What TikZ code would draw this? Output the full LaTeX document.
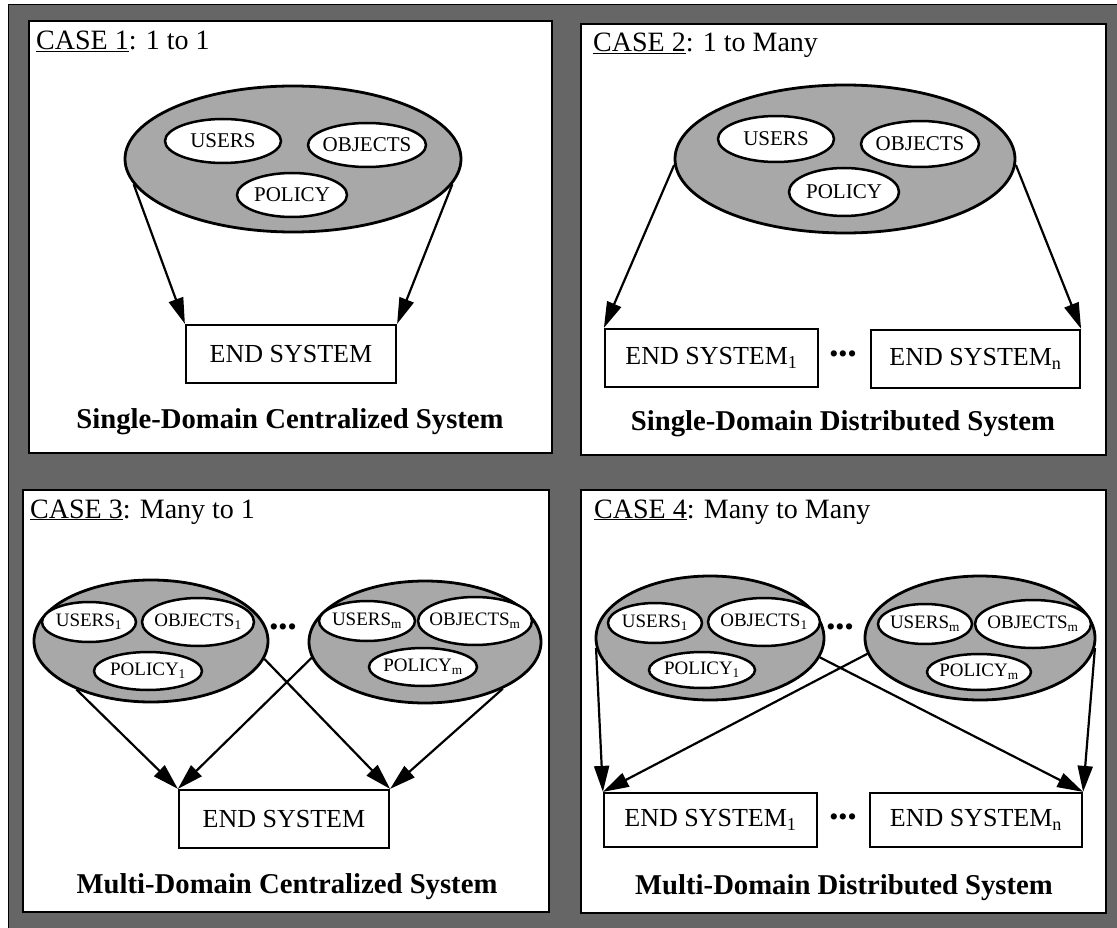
\documentclass[tikz,border=0pt]{standalone}
\usepackage{fontspec}
\setmainfont{Liberation Serif}
\usetikzlibrary{shapes.geometric,arrows.meta}

\definecolor{bandgray}{gray}{0.40}
\definecolor{domgray}{gray}{0.66}

\tikzset{
  casepanel/.style={fill=white, draw=black, line width=1.8pt},
  domainoval/.style={ellipse, draw=black, line width=2.8pt, fill=domgray, inner sep=0pt},
  partoval/.style={ellipse, draw=black, line width=2.5pt, fill=white, inner ysep=0pt,
    inner xsep=-8pt, font=\fontsize{21}{23}\selectfont},
  smallpartoval/.style={partoval, inner xsep=-9pt, font=\fontsize{19}{21}\selectfont},
  esbox/.style={draw=black, line width=2.2pt, fill=white, minimum height=58pt,
    inner sep=0pt, font=\fontsize{26}{28}\selectfont},
  linkarrow/.style={line width=2.2pt, -{Triangle[length=26pt,width=15pt]}},
  casehead/.style={anchor=base west, inner sep=0pt, font=\fontsize{28}{30}\selectfont},
  casecaption/.style={anchor=base, inner sep=0pt, font=\fontsize{28.7}{31}\selectfont\bfseries},
  dotrow/.style={inner sep=0pt, font=\fontsize{26}{26}\selectfont},
}

\begin{document}
\begin{tikzpicture}[x=1pt,y=-1pt]
\useasboundingbox (0,0) rectangle (1117,928);
\fill[white] (0,0) rectangle (1117,928);
% halftone frame behind the four panels
\filldraw[fill=bandgray, draw=black, line width=1pt] (8,5) rectangle (1117,928);

% ---------------- Case 1 ----------------
\draw[casepanel] (29,21) rectangle (552,453);
\node[casehead] (h1) at (36,50) {\underline{CASE 1}: 1 to 1};
\node[domainoval, minimum width=336pt, minimum height=146pt] (d1) at (293,159) {};
\node[partoval, minimum width=116pt, minimum height=44pt] (u1) at (223,141) {USERS};
\node[partoval, minimum width=118pt, minimum height=44pt] (o1) at (367,145) {OBJECTS};
\node[partoval, minimum width=110pt, minimum height=44pt] (p1) at (292,195) {POLICY};
\node[esbox, minimum width=210pt] (es1) at (291,354) {END SYSTEM};
\draw[linkarrow] (d1.-171) -- (es1.north west);
\draw[linkarrow] (d1.-9) -- (es1.north east);
\node[casecaption] (c1) at (290,428) {Single-Domain Centralized System};

% ---------------- Case 2 ----------------
\draw[casepanel] (581,24) rectangle (1106,455);
\node[casehead] (h2) at (593,52) {\underline{CASE 2}: 1 to Many};
\node[domainoval, minimum width=340pt, minimum height=148pt] (d2) at (845,159) {};
\node[partoval, minimum width=116pt, minimum height=46pt] (u2) at (776,139) {USERS};
\node[partoval, minimum width=118pt, minimum height=46pt] (o2) at (920,144) {OBJECTS};
\node[partoval, minimum width=110pt, minimum height=48pt] (p2) at (844,192) {POLICY};
\node[esbox, minimum width=213pt] (es2a) at (711.5,358) {END SYSTEM\textsubscript{1}};
\node[esbox, minimum width=209pt] (es2b) at (975.5,359) {END SYSTEM\textsubscript{n}};
\node[dotrow] (dt2) at (843,357) {•••};
\draw[linkarrow] (d2.-178) -- (es2a.north west);
\draw[linkarrow] (d2.-2) -- (es2b.north east);
\node[casecaption] (c2) at (843,430) {Single-Domain Distributed System};

% ---------------- Case 3 ----------------
\draw[casepanel] (23,490) rectangle (549,912);
\node[casehead] (h3) at (30,518) {\underline{CASE 3}: Many to 1};
\node[domainoval, minimum width=234pt, minimum height=122pt] (d3a) at (151,641) {};
\node[domainoval, minimum width=232pt, minimum height=122pt] (d3b) at (425,642) {};
\node[smallpartoval, minimum width=94pt, minimum height=40pt] (u3a) at (89,622) {USERS\textsubscript{1}};
\node[smallpartoval, minimum width=112pt, minimum height=48pt] (o3a) at (198,622) {OBJECTS\textsubscript{1}};
\node[smallpartoval, minimum width=108pt, minimum height=38pt] (p3a) at (148,671) {POLICY\textsubscript{1}};
\node[smallpartoval, minimum width=96pt, minimum height=40pt] (u3b) at (367,621) {USERS\textsubscript{m}};
\node[smallpartoval, minimum width=114pt, minimum height=48pt] (o3b) at (475,621) {OBJECTS\textsubscript{m}};
\node[smallpartoval, minimum width=108pt, minimum height=38pt] (p3b) at (423,667) {POLICY\textsubscript{m}};
\node[dotrow] (dt3) at (283,630) {•••};
\node[esbox, minimum width=210pt] (es3) at (284,819) {END SYSTEM};
\draw[linkarrow] (d3a.-147) -- (es3.north west);
\draw[linkarrow] (d3a.-9) -- (es3.north east);
\draw[linkarrow] (d3b.-172) -- (es3.north west);
\draw[linkarrow] (d3b.-31) -- (es3.north east);
\node[casecaption] (c3) at (287,893) {Multi-Domain Centralized System};

% ---------------- Case 4 ----------------
\draw[casepanel] (581,490) rectangle (1106,913);
\node[casehead] (h4) at (594,518) {\underline{CASE 4}: Many to Many};
\node[domainoval, minimum width=228pt, minimum height=124pt] (d4a) at (710,638) {};
\node[domainoval, minimum width=230pt, minimum height=124pt] (d4b) at (980,638) {};
\node[smallpartoval, minimum width=94pt, minimum height=40pt] (u4a) at (655,623) {USERS\textsubscript{1}};
\node[smallpartoval, minimum width=112pt, minimum height=48pt] (o4a) at (764,622) {OBJECTS\textsubscript{1}};
\node[smallpartoval, minimum width=106pt, minimum height=36pt] (p4a) at (702,670) {POLICY\textsubscript{1}};
\node[smallpartoval, minimum width=94pt, minimum height=40pt] (u4b) at (925,624) {USERS\textsubscript{m}};
\node[smallpartoval, minimum width=116pt, minimum height=48pt] (o4b) at (1033,624) {OBJECTS\textsubscript{m}};
\node[smallpartoval, minimum width=104pt, minimum height=36pt] (p4b) at (979,672) {POLICY\textsubscript{m}};
\node[dotrow] (dt4) at (840,630) {•••};
\node[esbox, minimum width=213pt, minimum height=54pt] (es4a) at (710.5,820) {END SYSTEM\textsubscript{1}};
\node[esbox, minimum width=212pt, minimum height=54pt] (es4b) at (976,820) {END SYSTEM\textsubscript{n}};
\node[dotrow] (dt4b) at (843,820) {•••};
\draw[linkarrow] (d4a.-175) -- (es4a.north west);
\draw[linkarrow] (d4a.-10) -- (es4b.north east);
\draw[linkarrow] (d4b.-172) -- (es4a.north west);
\draw[linkarrow] (d4b.-5) -- (es4b.north east);
\node[casecaption] (c4) at (844,894) {Multi-Domain Distributed System};
\end{tikzpicture}
\end{document}
